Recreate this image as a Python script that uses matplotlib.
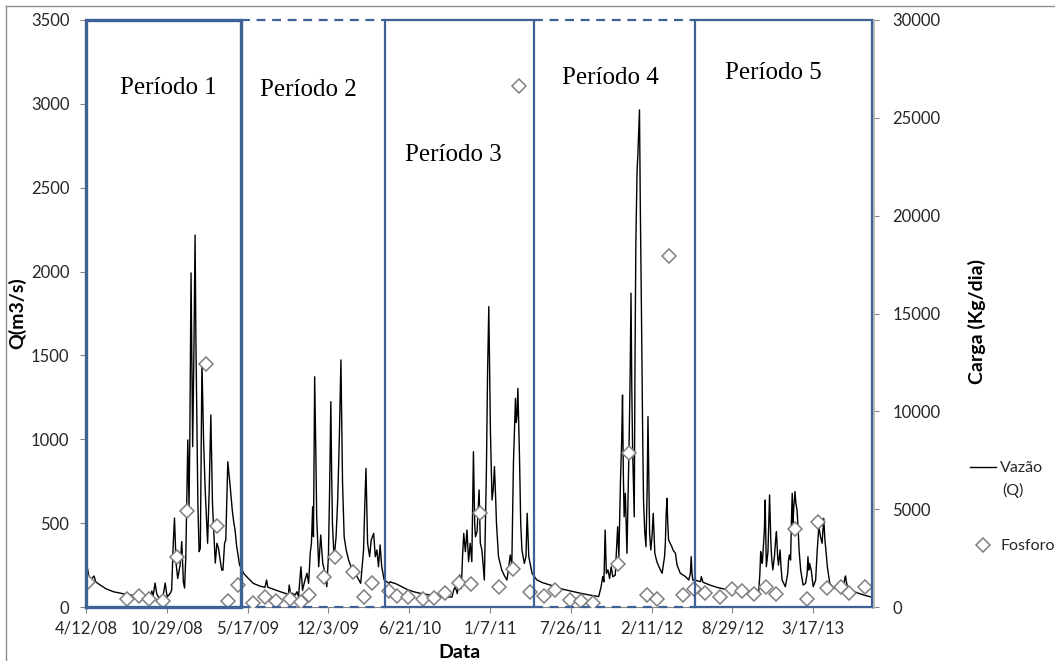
import pandas as pd
import numpy as np
import matplotlib
matplotlib.use("Agg")
import matplotlib.pyplot as plt
from matplotlib.lines import Line2D

# %% data (days counted from the first date)
START = pd.Timestamp("2008-04-12")

# Vazão (Q), m3/s
q_day = [0, 3, 8, 12, 16, 20, 24, 35, 50, 68, 90, 109, 130, 150, 160, 163, 166, 171, 175, 179,
         190, 196, 199, 201, 208, 212, 216, 219, 223, 227, 233, 237, 241, 244, 247, 249, 252, 255, 257, 260,
         263, 264, 267, 270, 272, 274, 277, 280, 283, 287, 291, 295, 301, 305, 309, 313, 316, 320, 324, 328,
         332, 336, 339, 343, 346, 351, 357, 362, 366, 369, 373, 377, 380, 385, 390,
         400, 414, 430, 443, 447, 450, 465, 481, 495, 501, 503, 506, 512, 518, 522, 526, 532, 536, 542,
         547, 551, 555, 558, 561, 563, 566, 569, 571, 576, 581, 586, 592, 596, 600, 603, 606, 608, 610, 614,
         619, 623, 627, 631, 633, 635, 639, 644, 650, 656, 662, 671, 680, 687, 690, 693, 697, 702, 706, 712,
         716, 720, 724, 728, 732, 738,
         745, 750, 753, 758, 765, 770, 778, 795, 811, 830, 852, 870, 893, 903, 906, 910, 914, 919, 925, 929,
         932, 935, 939, 943, 947, 951, 955, 959, 962, 964, 968, 973, 976, 980, 986, 991, 994, 997, 999, 1001,
         1005, 1008, 1011, 1014, 1016, 1021, 1029, 1036, 1042, 1047, 1050, 1054, 1058, 1063, 1065, 1067, 1069, 1071, 1073, 1076,
         1079, 1085, 1089, 1092, 1096, 1104, 1110,
         1116, 1130, 1149, 1165, 1182, 1200, 1224, 1245, 1269, 1275, 1279, 1282, 1285, 1288, 1292, 1296, 1300, 1304, 1310, 1316,
         1319, 1323, 1326, 1328, 1330, 1332, 1335, 1339, 1344, 1347, 1349, 1351, 1353, 1357, 1359, 1361, 1364, 1366, 1370, 1372,
         1375, 1378, 1380, 1383, 1386, 1389, 1391, 1393, 1395, 1398, 1401, 1404, 1408, 1413, 1420, 1426, 1432, 1434, 1436, 1438,
         1440, 1442, 1446, 1450, 1453, 1459, 1463, 1471, 1478, 1484, 1492, 1496, 1498, 1500, 1502,
         1508, 1515, 1521, 1523, 1527, 1545, 1562, 1580, 1603, 1625, 1645, 1661, 1665, 1668, 1670, 1672, 1674, 1676, 1679, 1681,
         1684, 1688, 1690, 1692, 1695, 1697, 1700, 1704, 1707, 1709, 1712, 1714, 1718, 1720, 1723, 1731, 1737, 1739, 1741, 1744,
         1746, 1748, 1750, 1752, 1755, 1757, 1760, 1763, 1765, 1769, 1775, 1781, 1785, 1787, 1789, 1791, 1795, 1800, 1806, 1810,
         1814, 1818, 1822, 1826, 1829, 1831, 1835, 1841, 1851, 1864, 1872, 1876, 1878, 1880, 1882, 1884, 1892, 1905, 1917, 1930,
         1946]
q_val = [260, 240, 170, 150, 175, 185, 150, 131, 108, 91, 80, 72, 66, 61, 70, 95, 65, 143, 80, 60,
         55, 143, 90, 60, 80, 100, 380, 530, 260, 170, 250, 390, 150, 113, 300, 580, 996, 600, 1000, 1992,
         1200, 956, 1500, 2218, 1600, 1194, 600, 330, 350, 1460, 996, 700, 380, 700, 1145, 620, 460, 262, 380, 350,
         280, 220, 220, 380, 400, 866, 717, 578, 500, 459, 360, 300, 250, 230, 201,
         175, 141, 125, 117, 161, 118, 105, 91, 80, 72, 131, 85, 80, 72, 91, 62, 240, 100, 161,
         201, 141, 320, 380, 598, 419, 1373, 900, 538, 240, 429, 260, 201, 121, 300, 700, 1224, 800, 499, 290,
         419, 638, 1000, 1473, 1100, 738, 419, 340, 280, 240, 221, 180, 141, 340, 600, 827, 380, 300, 399, 439,
         300, 340, 240, 370, 240, 161,
         150, 140, 151, 145, 141, 135, 125, 105, 91, 80, 72, 65, 58, 60, 60, 100, 121, 80, 191, 110,
         300, 439, 330, 459, 270, 380, 270, 926, 500, 419, 450, 698, 380, 340, 161, 797, 1400, 1791, 1400, 1055,
         638, 700, 837, 650, 499, 300, 221, 185, 161, 250, 310, 250, 857, 1244, 1100, 1148, 1304, 1100, 896, 500,
         340, 260, 300, 559, 300, 201, 181,
         161, 145, 131, 118, 105, 95, 82, 72, 62, 121, 181, 150, 459, 200, 221, 170, 240, 180, 190, 479,
         300, 757, 1000, 1264, 800, 538, 678, 320, 936, 1400, 1871, 1300, 936, 538, 1500, 2168, 2600, 2700, 2964, 2400,
         1731, 1000, 638, 450, 360, 700, 1135, 800, 439, 340, 420, 559, 320, 270, 230, 201, 300, 380, 550, 648,
         500, 400, 380, 360, 340, 320, 250, 201, 190, 181, 161, 200, 300, 200, 161,
         160, 155, 151, 181, 148, 130, 117, 107, 97, 87, 78, 66, 90, 200, 330, 280, 260, 340, 450, 638,
         240, 330, 500, 668, 400, 300, 221, 300, 400, 449, 300, 250, 340, 250, 161, 121, 201, 280, 310, 280,
         500, 678, 500, 600, 688, 620, 578, 450, 340, 220, 131, 140, 200, 300, 220, 260, 221, 121, 160, 340,
         479, 420, 380, 529, 400, 350, 240, 141, 111, 115, 120, 131, 170, 185, 150, 130, 101, 88, 78, 68,
         58]

# Fosforo, Kg/dia
p_day = [6, 101, 132, 157, 190, 225, 251, 296, 324, 351, 377, 414, 442, 471, 504, 533, 553, 590, 617, 660,
         687, 709, 749, 771, 798, 834, 862, 889, 924, 953, 974, 1022, 1058, 1073, 1100, 1133, 1162, 1199, 1225, 1254,
         1316, 1345, 1389, 1414, 1442, 1478, 1504, 1533, 1569, 1598, 1624, 1653, 1682, 1709, 1754, 1785, 1812, 1835, 1868, 1888,
         1928]
p_val = [1300, 430, 570, 420, 300, 2570, 4920, 12400, 4150, 290, 1100, 200, 490, 300, 420, 280, 630, 1550, 2540, 1770,
         527, 1244, 840, 579, 528, 392, 444, 698, 1210, 1175, 4820, 1040, 1960, 26620, 785, 579, 869, 358, 322, 220,
         2180, 7885, 613, 409, 17936, 613, 920, 731, 528, 920, 818, 664, 1040, 647, 3970, 392, 4330, 954, 1040, 698,
         1005]

# period boundaries (days) and labels
period_edges = [0, 384, 740, 1110, 1507, 1946]
period_labels = ["Período 1", "Período 2", "Período 3", "Período 4", "Período 5"]
tick_step = 200
x_end = 1948

# label placement (day, Q value) for the period texts
label_pos = [(203, 3095), (550, 3083), (909, 2695), (1298, 3154), (1702, 3184)]

q_dates = START + pd.to_timedelta(q_day, unit="D")
p_dates = START + pd.to_timedelta(p_day, unit="D")

# %% plot
plt.rcParams["font.family"] = ["Lato", "DejaVu Sans"]
fig = plt.figure(figsize=(10.55, 6.61), dpi=100)
ax = fig.add_axes([86 / 1055, 1 - 607 / 661, 787 / 1055, 587 / 661])
ax2 = ax.twinx()

ax.plot(q_dates, q_val, color="black", lw=1.0, label="Vazão", zorder=3)
ax2.plot(p_dates, p_val, ls="none", marker="D", ms=7, mfc="white", mec="#7f7f7f", mew=1.1,
         label="Fosforo", zorder=4)

ax.set_xlim(START, START + pd.Timedelta(days=x_end))
ax.set_ylim(0, 3500)
ax2.set_ylim(0, 30000)
ax.set_yticks(np.arange(0, 3501, 500))
ax2.set_yticks(np.arange(0, 30001, 5000))

ticks = [START + pd.Timedelta(days=d) for d in range(0, x_end, tick_step)]
ax.set_xticks(ticks)
ax.set_xticklabels([f"{t.month}/{t.day}/{t.year % 100:02d}" for t in ticks])

# period boxes: solid for odd periods, dashed top/bottom for even ones
box_color = "#3e6295"
tr = ax2.get_xaxis_transform()
for i in range(5):
    x0 = START + pd.Timedelta(days=period_edges[i])
    x1 = START + pd.Timedelta(days=period_edges[i + 1])
    if i % 2 == 0:
        lw = 2.4 if i == 0 else 1.6
        ax2.plot([x0, x1, x1, x0, x0], [0, 0, 1, 1, 0], color=box_color, lw=lw,
                 transform=tr, clip_on=False, zorder=5, solid_joinstyle="miter")
    else:
        for yy in (0, 1):
            ax2.plot([x0, x1], [yy, yy], color=box_color, lw=1.6, ls=(0, (4, 3)),
                     transform=tr, clip_on=False, zorder=5)
    lx, ly = label_pos[i]
    ax.text(START + pd.Timedelta(days=lx), ly, period_labels[i], ha="center", va="center",
            fontsize=18, family=["Liberation Serif", "DejaVu Serif"], color="black")

# axes styling
grey = "#868686"
ax.spines["top"].set_visible(False)
ax2.spines["top"].set_visible(False)
ax.spines["left"].set_color(grey)
ax.spines["bottom"].set_color(grey)
ax2.spines["right"].set_color("#bfbfbf")
ax2.spines["right"].set_linewidth(2.2)
ax2.spines["left"].set_visible(False)
ax2.spines["bottom"].set_visible(False)
for a in (ax, ax2):
    a.tick_params(axis="both", colors=grey, labelcolor="#262626", labelsize=12, length=4, width=0.8)
ax.tick_params(axis="x", pad=6)
ax.tick_params(axis="y", pad=8)
ax2.tick_params(axis="y", pad=10)

ax.set_ylabel("Q(m3/s)", fontsize=14, fontweight="bold")
ax.yaxis.set_label_coords(-0.076, 0.5)
ax2.set_ylabel("Carga (Kg/dia)", fontsize=14, fontweight="bold")
ax2.yaxis.set_label_coords(1.12, 0.487)
ax.set_xlabel("Data", fontsize=14, fontweight="bold")
ax.xaxis.set_label_coords(0.474, -0.063)

# legend: "Vazão" line entry and "Fosforo" marker entry, with "(Q)" wrapped below "Vazão"
h1, l1 = ax.get_legend_handles_labels()
h2, l2 = ax2.get_legend_handles_labels()
fig.legend(h1 + h2, l1 + l2, loc="upper left", bbox_to_anchor=(970 / 1055, 1 - 461 / 661),
           frameon=False, fontsize=11.5, handlelength=1.6, handletextpad=0.3, labelspacing=4.0,
           borderpad=0, borderaxespad=0, labelcolor="#262626")
fig.text(1002 / 1055, 1 - 490 / 661, "(Q)", fontsize=11.5, color="#262626", ha="left", va="center")

# chart-area border (only top and left visible in the reference)
fig.add_artist(Line2D([6 / 1055, 1], [1 - 6 / 661, 1 - 6 / 661], color="#8c8c8c", lw=1))
fig.add_artist(Line2D([6 / 1055, 6 / 1055], [0, 1 - 6 / 661], color="#8c8c8c", lw=1))

fig.savefig("out.png", dpi=100)
